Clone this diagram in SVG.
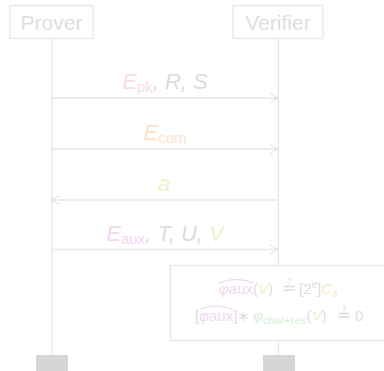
<svg xmlns="http://www.w3.org/2000/svg" width="384" height="371" viewBox="0 0 384 371">
<style>
.box{fill:#fff;stroke:#e6e6e6;stroke-width:1.3}
.life{stroke:#e6e6e6;stroke-width:1.3}
.msg{stroke:#e6e6e6;stroke-width:1.3;fill:none}
.end{fill:#d6d6d6}
.name{font-family:"Liberation Sans",Arial,sans-serif;font-size:21px;fill:#dedede}
.lab{font-family:"Liberation Sans",Arial,sans-serif;font-size:22px;font-style:italic;fill:#dcdcdc}
.f{font-family:"Liberation Sans",Arial,sans-serif;font-size:15px;fill:#dedede}
.eq{font-family:"DejaVu Sans",sans-serif;font-size:18px;fill:#dedede}
.it{font-style:italic}
.pk{fill:#f6dde0}.or{fill:#fde3cc}.yg{fill:#eef3c8}.pu{fill:#efd8f0}.gr{fill:#d6f0d6}.ye{fill:#f6ebc8}
.sub{font-size:15px;font-style:normal}
.hat{stroke:#eccfee;stroke-width:1;fill:none}
</style>
<defs>
<marker id="ah" markerWidth="10" markerHeight="12" refX="9" refY="6" orient="auto-start-reverse" markerUnits="userSpaceOnUse">
<path d="M1,1 Q5,4 9,6 Q5,8 1,11" fill="none" stroke="#e0e0e0" stroke-width="1"/>
</marker>
</defs>
<g id="lifelines">
<line class="life" x1="52" y1="38" x2="52" y2="355"/>
<line class="life" x1="278.5" y1="38" x2="278.5" y2="355"/>
</g>
<g id="prover">
<rect class="box" x="10" y="5.5" width="83" height="33"/>
<text class="name" x="51.5" y="30" text-anchor="middle">Prover</text>
<rect class="end" x="36" y="355" width="32" height="16"/>
</g>
<g id="verifier">
<rect class="box" x="233" y="5.5" width="90" height="33"/>
<text class="name" x="278" y="30" text-anchor="middle">Verifier</text>
<rect class="end" x="263" y="355" width="32" height="16"/>
</g>
<g id="connectors">
<line class="msg" x1="52" y1="98" x2="278" y2="98" marker-end="url(#ah)"/>
<line class="msg" x1="52" y1="149" x2="278" y2="149" marker-end="url(#ah)"/>
<line class="msg" x1="278" y1="200" x2="52" y2="200" marker-end="url(#ah)"/>
<line class="msg" x1="52" y1="249.5" x2="278" y2="249.5" marker-end="url(#ah)"/>
<text class="lab" x="165" y="89" text-anchor="middle" xml:space="preserve"><tspan class="pk">E<tspan class="sub" dy="3">pk</tspan></tspan><tspan dy="-3">, R, S</tspan></text>
<text class="lab" x="165" y="140" text-anchor="middle"><tspan class="or">E<tspan class="sub" dy="3">com</tspan></tspan></text>
<text class="lab" x="164" y="191" text-anchor="middle"><tspan class="yg">a</tspan></text>
<text class="lab" x="165" y="241" text-anchor="middle" xml:space="preserve"><tspan class="pu">E<tspan class="sub" dy="3">aux</tspan></tspan><tspan dy="-3">, T, U, </tspan><tspan class="yg">V</tspan></text>
</g>
<g id="check">
<rect class="box" x="170.5" y="265.5" width="216" height="75"/>
<path class="hat" d="M219,283 Q236,276 254,283"/>
<text class="f" x="219" y="294"><tspan class="pu it">φ</tspan><tspan class="pu">aux</tspan>(<tspan class="yg it">V</tspan>)</text>
<text class="eq" x="289" y="294" text-anchor="middle">≟</text>
<text class="f" x="299" y="294">[2<tspan font-size="10" dy="-6">e</tspan><tspan dy="6">]</tspan><tspan class="ye it">C</tspan><tspan class="ye it" font-size="10" dy="3">a</tspan></text>
<path class="hat" d="M201,309 Q216,303 232,309"/>
<text class="f" x="195" y="321">[<tspan class="pu it">φ</tspan><tspan class="pu">aux</tspan>]∗</text>
<text class="f" x="253" y="321"><tspan class="gr it">φ</tspan><tspan class="gr" font-size="11.5" dy="3">chal+res</tspan><tspan dy="-3">(</tspan><tspan class="yg it">V</tspan>)</text>
<text class="eq" x="344" y="321" text-anchor="middle">≟</text>
<text class="f" x="355" y="321">0</text>
</g>
</svg>
